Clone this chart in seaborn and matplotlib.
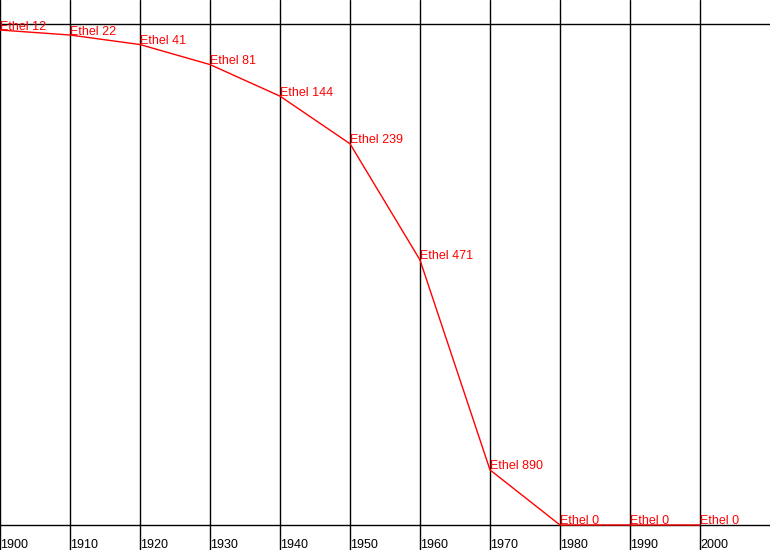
import matplotlib
matplotlib.use("Agg")
import matplotlib.pyplot as plt
import seaborn as sns
import pandas as pd

name = "Ethel"
years = [1900, 1910, 1920, 1930, 1940, 1950, 1960, 1970, 1980, 1990, 2000]
ranks = [12, 22, 41, 81, 144, 239, 471, 890, 0, 0, 0]
tick_years = [1900, 1910, 1920, 1930, 1940, 1950, 1960, 1970, 1980, 1990, 2000]
max_rank = 1000  # unranked (0) is drawn at the bottom of the scale

sns.set_theme(style="white")
plt.rcParams['font.family'] = ['Liberation Sans', 'DejaVu Sans']

df = pd.DataFrame({"year": years, "rank": ranks})
df["plot_rank"] = [r if r > 0 else max_rank for r in ranks]

fig = plt.figure(figsize=(7.7, 5.5), dpi=100)
ax = fig.add_axes([0, 0, 1, 1])
ax.set_xlim(1900, 2010)
ax.set_ylim(1049.9, -47.9)
ax.axis("off")

for yr in tick_years:
    ax.axvline(yr, color="black", lw=1, zorder=1)
ax.axhline(0, color="black", lw=1, zorder=1)
ax.axhline(max_rank, color="black", lw=1, zorder=1)

sns.lineplot(data=df, x="year", y="plot_rank", color="red", lw=1, ax=ax,
             zorder=3, legend=False)

for yr, r, pr in zip(df["year"], df["rank"], df["plot_rank"]):
    ax.text(yr, pr - 1, f"{name} {r}", color="red", fontsize=9,
            ha="left", va="baseline", zorder=4, clip_on=False)

for yr in tick_years:
    ax.text(yr, 1046, str(yr), color="black", fontsize=9, ha="left",
            va="baseline", zorder=4)

fig.savefig("out.png", dpi=100)
